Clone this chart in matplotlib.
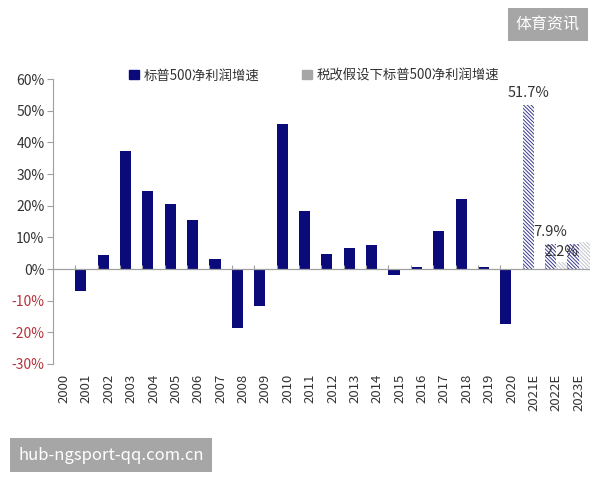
import numpy as np
import matplotlib
matplotlib.use('Agg')
import matplotlib.pyplot as plt
from matplotlib.patches import Patch

plt.rcParams['font.family'] = ['Noto Sans CJK SC', 'DejaVu Sans']
plt.rcParams['hatch.linewidth'] = 0.7

# data
years = ['2000', '2001', '2002', '2003', '2004', '2005', '2006', '2007', '2008', '2009',
         '2010', '2011', '2012', '2013', '2014', '2015', '2016', '2017', '2018', '2019',
         '2020', '2021E', '2022E', '2023E']
growth = [0, -6.8, 4.3, 37.2, 24.7, 20.7, 15.6, 3.3, -18.7, -11.8,
          45.9, 18.3, 4.7, 6.7, 7.6, -1.8, 0.8, 12.0, 22.0, 0.8,
          -17.4, 51.7, 7.9, 7.9]
tax_growth = [np.nan] * 22 + [2.2, 8.6]
n_est = 3
labels = {21: '51.7%', 22: '7.9%'}
tax_labels = {22: '2.2%'}

navy = '#0a0a7a'
grey = '#a6a6a6'
txt = '#333333'
red = '#b5333a'
dense = '\\' * 9

fig = plt.figure(figsize=(6, 4.8), dpi=100)
ax = fig.add_axes([0.088, 0.2417, 0.895, 0.5933])

x = np.arange(len(years))
n_act = len(years) - n_est
ax.bar(x[:n_act] - 0.5, growth[:n_act], width=0.5, align='edge', color=navy, zorder=3)
ax.bar(x[n_act:] - 0.5, growth[n_act:], width=0.5, align='edge', facecolor='white',
       edgecolor='#3a3a90', hatch=dense, linewidth=0, zorder=3)
ax.bar(x, tax_growth, width=0.5, align='edge', facecolor='white',
       edgecolor='#c4c4d0', hatch=dense, linewidth=0, zorder=3)

for i, s in labels.items():
    ax.annotate(s, (x[i] - 0.25, growth[i]), xytext=(0, 4), textcoords='offset points',
                ha='center', va='bottom', fontsize=10.5, color=txt, zorder=5)
for i, s in tax_labels.items():
    ax.annotate(s, (x[i] + 0.25, tax_growth[i]), xytext=(0, 2), textcoords='offset points',
                ha='center', va='bottom', fontsize=10.5, color=txt, zorder=5)

ax.axhline(0, color='#a0a0a0', lw=0.9, zorder=4)
ax.vlines(x[1:] - 0.5, 0, 1.3, color='#a0a0a0', lw=0.8, zorder=4)

ax.set_xlim(-0.5, len(years) - 0.5)
ax.set_ylim(-30, 60)
yt = np.arange(-30, 61, 10)
ax.set_yticks(yt)
ax.set_yticklabels([f'{v}%' for v in yt], fontsize=10)
for lab, v in zip(ax.get_yticklabels(), yt):
    lab.set_color(red if v < 0 else txt)
ax.set_xticks(x)
ax.set_xticklabels(years, rotation=90, fontsize=9.5, color=txt, va='top')
ax.tick_params(axis='x', length=0, pad=7)
ax.tick_params(axis='y', length=4, color='#a0a0a0', pad=2)

for side in ['top', 'right', 'bottom']:
    ax.spines[side].set_visible(False)
ax.spines['left'].set_color('#a0a0a0')

handles = [Patch(color=navy), Patch(color=grey)]
fig.legend(handles, ['标普500净利润增速', '税改假设下标普500净利润增速'], loc='center',
           bbox_to_anchor=(0.524, 0.843), ncol=2, frameon=False, fontsize=9.6,
           handlelength=0.7, handleheight=0.7, handletextpad=0.4, columnspacing=3.2,
           labelcolor=txt)

# watermark boxes
fig.text(0.913, 0.948, '体育资讯', ha='center', va='center', fontsize=11.5, color='white',
         bbox=dict(boxstyle='square,pad=0.5', fc=grey, ec='none'))
fig.text(0.185, 0.052, 'hub-ngsport-qq.com.cn', ha='center', va='center', fontsize=12,
         color='white', bbox=dict(boxstyle='square,pad=0.5', fc=grey, ec='none'))

fig.savefig('out.png', dpi=100)
